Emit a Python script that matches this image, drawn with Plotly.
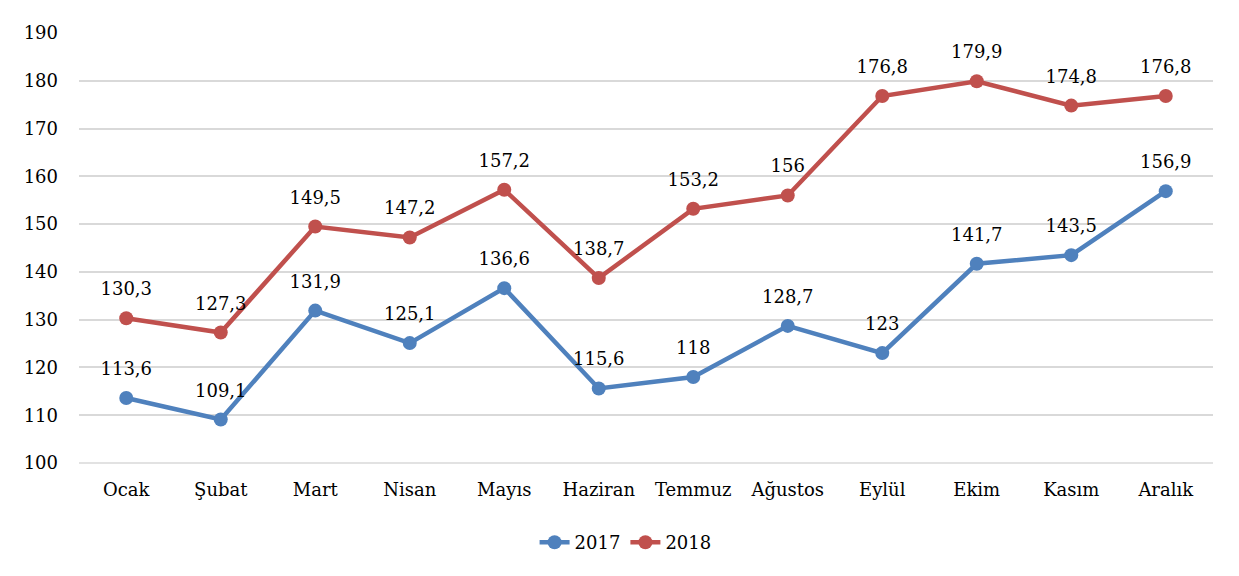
import plotly.graph_objects as go

months = ["Ocak", "Şubat", "Mart", "Nisan", "Mayıs", "Haziran", "Temmuz",
          "Ağustos", "Eylül", "Ekim", "Kasım", "Aralık"]
v2017 = [113.6, 109.1, 131.9, 125.1, 136.6, 115.6, 118, 128.7, 123, 141.7, 143.5, 156.9]
v2018 = [130.3, 127.3, 149.5, 147.2, 157.2, 138.7, 153.2, 156, 176.8, 179.9, 174.8, 176.8]
ticks = [100, 110, 120, 130, 140, 150, 160, 170, 180, 190]

def lbl(v):
    return ("%g" % v).replace(".", ",")

FONT = "DejaVu Serif"
FS = 18
fig = go.Figure()
for name, vals, col in [("2017", v2017, "#4F81BD"), ("2018", v2018, "#C0504D")]:
    fig.add_trace(go.Scatter(
        x=months, y=vals, name=name, mode="lines+markers",
        line=dict(color=col, width=4.5),
        marker=dict(color=col, size=14),
        cliponaxis=False,
    ))
    # data labels (transparent larger marker gives the label offset)
    fig.add_trace(go.Scatter(
        x=months, y=vals, mode="markers+text", showlegend=False, hoverinfo="skip",
        marker=dict(color="rgba(0,0,0,0)", size=28),
        text=[lbl(v) for v in vals], textposition="top center",
        textfont=dict(family=FONT, size=FS, color="#000000"),
        cliponaxis=False,
    ))

# figure sits at an 8px body offset in the page
W, H = 1231, 568
fig.update_layout(
    width=W, height=H,
    margin=dict(l=71, r=26, t=25, b=113, autoexpand=False),
    paper_bgcolor="white", plot_bgcolor="white",
    font=dict(family=FONT, size=FS, color="#000000"),
    showlegend=True,
    legend=dict(orientation="h", x=0.482, xanchor="center", y=-0.142, yanchor="top",
                font=dict(family=FONT, size=FS, color="#000000")),
    xaxis=dict(range=[-0.5, 11.5], showgrid=False, showline=False, ticks="", automargin=False,
               tickfont=dict(family=FONT, size=FS), ticklabelstandoff=14),
    yaxis=dict(range=[100, 190], tickvals=ticks, showgrid=True, gridcolor="#D9D9D9",
               gridwidth=1.5, zeroline=False, showline=False, ticks="", automargin=False,
               tickfont=dict(family=FONT, size=FS), ticklabelstandoff=20),
)
fig.add_shape(type="line", xref="paper", yref="paper", x0=0, x1=1, y0=0, y1=0,
              line=dict(color="#D9D9D9", width=1.5))
fig.write_html("out.html")
